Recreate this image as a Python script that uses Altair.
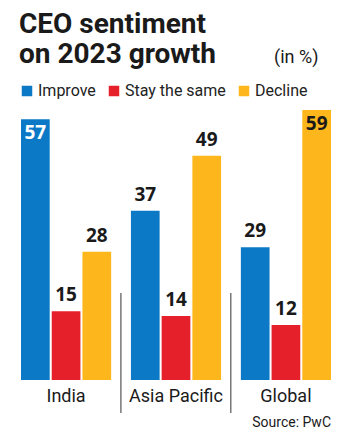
import altair as alt
import pandas as pd

regions = ["India", "Asia Pacific", "Global"]
series = ["Improve", "Stay the same", "Decline"]
improve = [57, 37, 29]
stay = [15, 14, 12]
decline = [28, 49, 59]
colors = ["#0b79c6", "#e5202b", "#fdb71c"]
title_text = "CEO sentiment\non 2023 growth"
unit_text = "(in %)"
source_text = "Source: PwC"
separators = ["Asia Pacific", "Global"]

rows = []
for i, r in enumerate(regions):
    for s, vals in zip(series, [improve, stay, decline]):
        rows.append({"Region": r, "Series": s, "Value": vals[i]})
df = pd.DataFrame(rows)
df["inside"] = df["Value"] >= 55

FONT = "Roboto, sans-serif"
NUMFONT = "Open Sans, Roboto, sans-serif"

xs = alt.Scale(domain=regions, range=[21, 331], paddingInner=0.18, paddingOuter=0)
xo = alt.Scale(domain=series, paddingInner=0.066)
ys = alt.Scale(domain=[0, 59], range=[380, 110], nice=False, zero=True)

base = alt.Chart(df)

bars = base.mark_bar().encode(
    x=alt.X("Region:N", scale=xs, axis=None, sort=regions),
    xOffset=alt.XOffset("Series:N", scale=xo, sort=series),
    y=alt.Y("Value:Q", scale=ys, axis=None),
    color=alt.Color(
        "Series:N",
        scale=alt.Scale(domain=series, range=colors),
        sort=series,
        legend=alt.Legend(
            orient="none", legendX=19, legendY=83, direction="horizontal",
            title=None, symbolType="square", symbolSize=110, symbolStrokeWidth=0,
            labelFont=FONT, labelFontSize=16, labelColor="#222222",
            columnPadding=10, labelOffset=3, symbolOffset=0,
        ),
    ),
)

above = base.transform_filter("!datum.inside").mark_text(
    baseline="bottom", dy=-6, fontSize=19, fontWeight="bold", font=NUMFONT, color="#1a1a1a"
).encode(
    x=alt.X("Region:N", scale=xs, sort=regions),
    xOffset=alt.XOffset("Series:N", scale=xo, sort=series),
    y=alt.Y("Value:Q", scale=ys),
    text="Value:Q",
)

inside = base.transform_filter("datum.inside").mark_text(
    baseline="top", dy=5, fontSize=19, fontWeight="bold", font=NUMFONT
).encode(
    x=alt.X("Region:N", scale=xs, sort=regions),
    xOffset=alt.XOffset("Series:N", scale=xo, sort=series),
    y=alt.Y("Value:Q", scale=ys),
    text="Value:Q",
    color=alt.condition("datum.Series == 'Improve'", alt.value("#ffffff"), alt.value("#1a1a1a")),
)

cat = alt.Chart(pd.DataFrame({"Region": regions})).mark_text(
    baseline="alphabetic", fontSize=18, font=FONT, color="#1a1a1a"
).encode(
    x=alt.X("Region:N", scale=xs, sort=regions),
    y=alt.value(402),
    text="Region:N",
)

sep = alt.Chart(pd.DataFrame({"Region": separators})).mark_rule(
    xOffset=-10, color="#333333", strokeWidth=1
).encode(
    x=alt.X("Region:N", scale=xs, sort=regions, bandPosition=0),
    y=alt.value(293),
    y2=alt.value(413),
)

title = alt.Chart(pd.DataFrame({"t": [title_text]})).mark_text(
    align="left", baseline="alphabetic", fontSize=28, fontWeight="bold", font=FONT,
    lineBreak="\n", lineHeight=30, color="#1a1a1a"
).encode(x=alt.value(19), y=alt.value(33), text="t:N")

unit = alt.Chart(pd.DataFrame({"t": [unit_text]})).mark_text(
    align="left", baseline="alphabetic", fontSize=18, font=FONT, color="#1a1a1a"
).encode(x=alt.value(274), y=alt.value(63), text="t:N")

src = alt.Chart(pd.DataFrame({"t": [source_text]})).mark_text(
    align="right", baseline="alphabetic", fontSize=14, font=FONT, color="#1a1a1a"
).encode(x=alt.value(331), y=alt.value(427), text="t:N")

chart = alt.layer(bars, above, inside, cat, sep, title, unit, src).properties(
    width=350, height=432, autosize=alt.AutoSizeParams(type="none"), padding=0,
    background="#ffffff",
).configure_view(stroke=None)

chart.save("out.html", embed_options={"renderer": "svg", "actions": False})
